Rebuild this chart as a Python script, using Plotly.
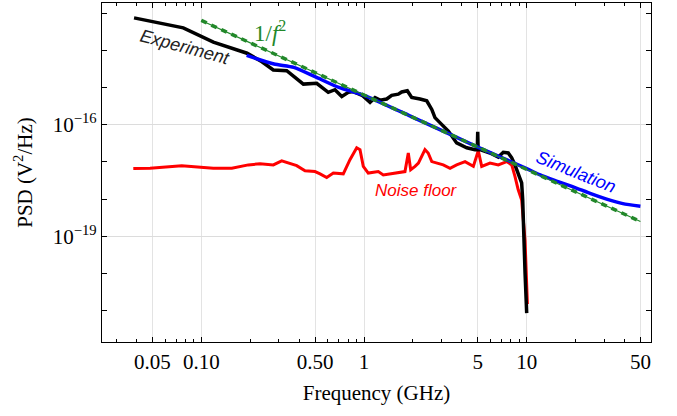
import plotly.graph_objects as go

# ---------------- data ----------------
exp_f = [0.0386, 0.0775, 0.1186, 0.191, 0.236, 0.277, 0.335, 0.424, 0.512, 0.603,
         0.663, 0.730, 0.801, 0.859, 0.973, 1.089, 1.169, 1.254, 1.379, 1.480,
         1.625, 1.705, 1.846, 1.964, 2.21, 2.43, 2.61, 2.73, 3.00, 3.30,
         3.71, 4.28, 4.81, 4.97, 5.00, 5.03, 5.16, 5.95, 6.69, 7.18,
         7.70, 8.09, 8.47, 9.10, 9.31, 9.45, 9.53, 9.77, 10.0]
exp_psd = [7.41e-14, 3.98e-14, 1.66e-14, 8.32e-15, 4.90e-15, 2.95e-15, 2.82e-15, 1.23e-15, 1.29e-15, 7.41e-16,
           8.71e-16, 5.75e-16, 7.41e-16, 7.76e-16, 6.17e-16, 3.98e-16, 5.37e-16, 4.57e-16, 4.90e-16, 6.17e-16,
           6.61e-16, 7.59e-16, 8.13e-16, 5.37e-16, 4.90e-16, 4.37e-16, 2.57e-16, 1.55e-16, 1.02e-16, 6.76e-17,
           3.24e-17, 2.40e-17, 2.14e-17, 2.14e-17, 6.46e-17, 2.14e-17, 2.14e-17, 1.74e-17, 1.35e-17, 1.82e-17,
           1.74e-17, 1.29e-17, 8.32e-18, 3.31e-18, 2.75e-18, 9.55e-19, 2.34e-19, 1.05e-20, 8.71e-22]

noise_f = [0.0382, 0.0484, 0.0758, 0.1185, 0.154, 0.1945, 0.2297, 0.277, 0.312, 0.386,
           0.434, 0.500, 0.537, 0.590, 0.648, 0.746, 0.820, 0.902, 0.945, 0.990,
           1.062, 1.224, 1.314, 1.514, 1.786, 1.872, 1.936, 2.06, 2.16, 2.37,
           2.48, 2.61, 2.80, 3.07, 3.38, 3.71, 4.18, 4.70, 5.04, 5.29,
           5.95, 6.69, 7.53, 8.09, 8.47, 8.87, 9.31, 9.77, 10.1]
noise_psd = [6.61e-18, 6.76e-18, 7.94e-18, 6.76e-18, 6.76e-18, 8.32e-18, 8.91e-18, 8.32e-18, 1.07e-17, 7.94e-18,
             5.75e-18, 5.50e-18, 4.79e-18, 3.80e-18, 5.01e-18, 4.79e-18, 1.15e-17, 2.40e-17, 2.14e-17, 7.59e-18,
             5.01e-18, 5.50e-18, 4.47e-18, 5.01e-18, 5.50e-18, 1.74e-17, 6.17e-18, 7.59e-18, 9.33e-18, 2.14e-17,
             1.74e-17, 1.02e-17, 9.33e-18, 8.32e-18, 6.76e-18, 8.32e-18, 1.02e-17, 7.59e-18, 2.00e-17, 7.59e-18,
             9.33e-18, 8.32e-18, 1.02e-17, 8.32e-18, 4.07e-18, 1.78e-18, 9.55e-19, 7.76e-20, 1.51e-21]

sim_f = [0.19, 0.28, 0.37, 0.50, 0.70, 1.0, 2.0, 5.0, 10.0, 12.0, 15.0, 19.3, 25.0, 31.0, 39.0, 50.0]
sim_psd = [7.24e-15, 4.27e-15, 3.47e-15, 1.95e-15, 1.0e-15, 6.17e-16, 1.58e-16, 2.51e-17, 6.61e-18,
           4.57e-18, 3.16e-18, 2.14e-18, 1.38e-18, 1.0e-18, 7.59e-19, 6.46e-19]

fit_f = [0.1, 50.0]
fit_psd = [6.31e-14, 2.51e-19]

x_major = [0.05, 0.1, 0.5, 1, 5, 10, 50]
x_major_text = ["0.05", "0.10", "0.50", "1", "5", "10", "50"]
x_minor = [0.03, 0.04, 0.06, 0.07, 0.08, 0.09, 0.2, 0.3, 0.4, 0.6, 0.7, 0.8, 0.9,
           2, 3, 4, 6, 7, 8, 9, 20, 30, 40]
y_major = [1e-16, 1e-19]
y_major_text = ["10<sup>\u221216</sup>", "10<sup>\u221219</sup>"]
y_minor = [1e-13, 1e-14, 1e-15, 1e-17, 1e-18, 1e-20, 1e-21]

GREEN = "#22882a"
SERIF = "Liberation Serif, Times New Roman, serif"
SANS = "Liberation Sans, Arial, sans-serif"

fig = go.Figure()
fig.add_trace(go.Scatter(x=noise_f, y=noise_psd, mode="lines",
                         line=dict(color="#ff0000", width=3)))
fig.add_trace(go.Scatter(x=exp_f, y=exp_psd, mode="lines",
                         line=dict(color="#000000", width=3.5)))
fig.add_trace(go.Scatter(x=sim_f, y=sim_psd, mode="lines",
                         line=dict(color="#0000ff", width=3.5, shape="spline", smoothing=0.6)))
fig.add_trace(go.Scatter(x=fit_f, y=fit_psd, mode="lines",
                         line=dict(color=GREEN, width=1.2)))
fig.add_trace(go.Scatter(x=fit_f, y=fit_psd, mode="lines",
                         line=dict(color=GREEN, width=3.5, dash="6px,5px")))

fig.update_layout(
    width=677, height=416,
    margin=dict(l=102, r=26, t=3, b=74),
    paper_bgcolor="white", plot_bgcolor="white",
    showlegend=False,
    font=dict(family=SERIF, size=21, color="black"),
)
fig.update_xaxes(
    type="log", range=[-1.6103, 1.764],
    tickmode="array", tickvals=x_major, ticktext=x_major_text,
    ticks="inside", ticklen=5, tickwidth=1, tickcolor="black",
    ticklabelstandoff=1,
    showgrid=True, gridcolor="#e3e3e3", gridwidth=1,
    showline=True, linecolor="black", linewidth=1.3, mirror="ticks",
    zeroline=False,
    minor=dict(tickmode="array", tickvals=x_minor, ticks="inside", ticklen=3,
               tickcolor="black", showgrid=False),
    tickfont=dict(family=SERIF, size=21),
    title=dict(text="Frequency (GHz)", font=dict(family=SERIF, size=21), standoff=11),
)
fig.update_yaxes(
    type="log", range=[-21.837, -12.731],
    tickmode="array", tickvals=y_major, ticktext=y_major_text,
    ticks="inside", ticklen=4.5, tickwidth=1, tickcolor="black",
    showgrid=True, gridcolor="#dcdcdc", gridwidth=1,
    showline=True, linecolor="black", linewidth=1.3, mirror="ticks",
    zeroline=False,
    minor=dict(tickmode="array", tickvals=y_minor, ticks="inside", ticklen=4.5,
               tickcolor="black", showgrid=False),
    tickfont=dict(family=SERIF, size=21),
    title=dict(text="PSD (V<sup>2</sup>/Hz)", font=dict(family=SERIF, size=21), standoff=14),
)

annos = [
    dict(text="<i>Experiment</i>", x=185, y=47, angle=15, color="#222222", size=18, fam=SANS),
    dict(text="1/<i>f</i><sup>2</sup>", x=270, y=31, angle=0, color=GREEN, size=23, fam=SERIF),
    dict(text="<i>Simulation</i>", x=576, y=172, angle=22, color="#0000ff", size=18, fam=SANS),
    dict(text="<i>Noise floor</i>", x=416, y=190, angle=0, color="#ff0000", size=17, fam=SANS),
]
for a in annos:
    fig.add_annotation(text=a["text"], xref="paper", yref="paper",
                       x=(a["x"] - 102) / 549, y=1 - (a["y"] - 3) / 339,
                       xanchor="center", yanchor="middle", showarrow=False,
                       textangle=a["angle"],
                       font=dict(family=a["fam"], size=a["size"], color=a["color"]))

fig.write_html("out.html")
